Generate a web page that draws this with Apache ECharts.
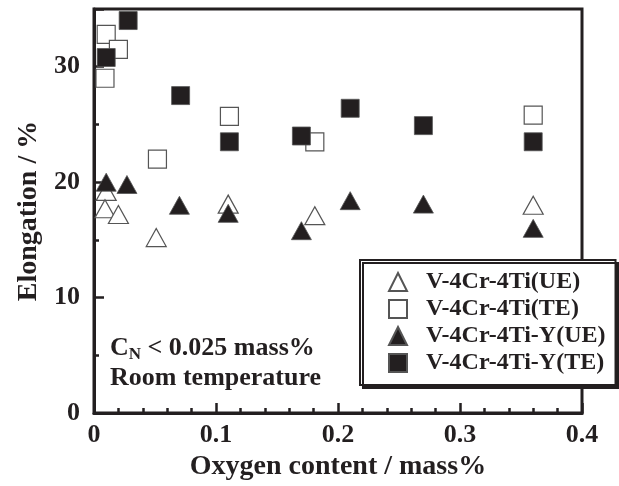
<!DOCTYPE html>
<html>
<head>
<meta charset="utf-8">
<script src="https://cdn.jsdelivr.net/npm/echarts@6/dist/echarts.min.js"></script>
<style>
  html, body { margin: 0; padding: 0; background: #fff; }
  #chart { width: 619px; height: 486px; }
</style>
</head>
<body>
<div id="chart"></div>
<script>
// Oxygen content (mass%) and elongation (%) for each alloy / elongation type
const seriesNames = ['V-4Cr-4Ti(UE)', 'V-4Cr-4Ti(TE)', 'V-4Cr-4Ti-Y(UE)', 'V-4Cr-4Ti-Y(TE)'];

const ueOxygen = [0.010, 0.009, 0.020, 0.051, 0.110, 0.181, 0.360];
const ueValues = [19.2, 17.7, 17.2, 15.2, 18.1, 17.1, 18.0];

const teOxygen = [0.010, 0.020, 0.009, 0.052, 0.111, 0.181, 0.360];
const teValues = [32.8, 31.5, 29.0, 22.0, 25.7, 23.5, 25.8];

const yUeOxygen = [0.010, 0.027, 0.070, 0.110, 0.170, 0.210, 0.270, 0.360];
const yUeValues = [20.0, 19.8, 18.0, 17.3, 15.8, 18.4, 18.1, 16.0];

const yTeOxygen = [0.010, 0.028, 0.071, 0.111, 0.170, 0.210, 0.270, 0.360];
const yTeValues = [30.8, 34.0, 27.5, 23.5, 24.0, 26.4, 24.9, 23.5];

const xTickLabels = ['0', '0.1', '0.2', '0.3', '0.4'];
const yTickLabels = ['0', '10', '20', '30'];

const INK = '#231f20';
const SERIF = '"Liberation Serif", "Times New Roman", Times, serif';

function pairs(xs, ys) {
  return xs.map((x, i) => [x, ys[i]]);
}

const openStyle = { color: '#ffffff', borderColor: '#555555', borderWidth: 1.2, opacity: 1 };
const filledStyle = { color: INK, borderColor: '#555555', borderWidth: 0.8, opacity: 1 };

const chart = echarts.init(document.getElementById('chart'), null, { renderer: 'canvas' });

chart.setOption({
  animation: false,
  backgroundColor: '#ffffff',
  grid: {
    left: 94, right: 37, top: 9, bottom: 70,
    show: true, borderColor: INK, borderWidth: 3, backgroundColor: 'transparent'
  },
  xAxis: {
    type: 'value', min: 0, max: 0.4, interval: 0.1,
    name: 'Oxygen content / mass%', nameLocation: 'middle', nameGap: 37,
    nameTextStyle: { fontFamily: SERIF, fontWeight: 'bold', fontSize: 28, color: INK },
    axisLine: { show: true, lineStyle: { color: INK, width: 3 } },
    axisTick: { show: true, inside: true, length: 10, lineStyle: { color: INK, width: 2.5 } },
    minorTick: { show: true, splitNumber: 5, length: 5, lineStyle: { color: INK, width: 2.5 } },
    splitLine: { show: false },
    axisLabel: {
      margin: 9, fontFamily: SERIF, fontWeight: 'bold', fontSize: 26, color: INK,
      formatter: v => xTickLabels[Math.round(v * 10)]
    }
  },
  yAxis: [
    {
      type: 'value', min: 0, max: 35, interval: 5,
      name: 'Elongation / %', nameLocation: 'middle', nameGap: 47,
      nameTextStyle: { fontFamily: SERIF, fontWeight: 'bold', fontSize: 28, color: INK },
      axisLine: { show: true, lineStyle: { color: INK, width: 3 } },
      axisTick: { show: true, inside: true, length: 5, lineStyle: { color: INK, width: 2.5 } },
      splitLine: { show: false },
      axisLabel: {
        margin: 14, fontFamily: SERIF, fontWeight: 'bold', fontSize: 26, color: INK,
        formatter: v => (yTickLabels.indexOf(String(v)) >= 0) ? String(v) : ''
      }
    },
    {
      // longer ticks on every 10 %
      type: 'value', min: 0, max: 35, interval: 10, position: 'left',
      axisLine: { show: false },
      axisTick: { show: true, inside: true, length: 10, lineStyle: { color: INK, width: 2.5 } },
      axisLabel: { show: false },
      splitLine: { show: false }
    }
  ],
  legend: {
    orient: 'vertical', left: 360, top: 260,
    padding: [10, 10, 10, 28], itemGap: 3, itemWidth: 18, itemHeight: 18,
    backgroundColor: '#ffffff', borderColor: INK, borderWidth: 2,
    shadowColor: INK, shadowBlur: 0, shadowOffsetX: 3, shadowOffsetY: 3,
    selectedMode: false,
    textStyle: {
      fontFamily: SERIF, fontWeight: 'bold', fontSize: 24, color: INK,
      lineHeight: 24, padding: [0, 0, 0, 14]
    },
    data: seriesNames
  },
  graphic: [
    {
      type: 'text', left: 110, top: 335, z: 10,
      style: {
        text: '{c|C}{s|N}{c| < 0.025 mass%}\n{c|Room temperature}',
        rich: {
          c: { fontFamily: SERIF, fontWeight: 'bold', fontSize: 26, lineHeight: 30, fill: INK },
          s: { fontFamily: SERIF, fontWeight: 'bold', fontSize: 17, lineHeight: 6, verticalAlign: 'bottom', fill: INK }
        }
      }
    }
  ],
  series: [
    { name: seriesNames[0], type: 'scatter', symbol: 'triangle', symbolSize: [20, 18], itemStyle: openStyle, data: pairs(ueOxygen, ueValues), z: 2 },
    { name: seriesNames[1], type: 'scatter', symbol: 'rect', symbolSize: 18, itemStyle: openStyle, data: pairs(teOxygen, teValues), z: 2 },
    { name: seriesNames[2], type: 'scatter', symbol: 'triangle', symbolSize: [20, 18], itemStyle: filledStyle, data: pairs(yUeOxygen, yUeValues), z: 3 },
    { name: seriesNames[3], type: 'scatter', symbol: 'rect', symbolSize: 18, itemStyle: filledStyle, data: pairs(yTeOxygen, yTeValues), z: 3 }
  ]
});
</script>
</body>
</html>
